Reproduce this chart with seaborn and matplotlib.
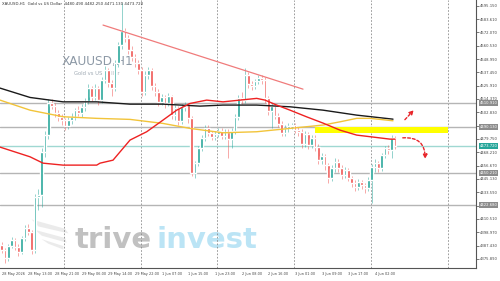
import numpy as np
import pandas as pd
import seaborn as sns
import matplotlib.pyplot as plt
from matplotlib.patches import Rectangle, FancyArrowPatch, Polygon
from matplotlib.transforms import blended_transform_factory

# XAUUSD H1 candles (open of each bar = close of the bar before)
first_open = 4388.0
closes = [4383.5, 4376.6, 4387.0, 4392.2, 4386.1, 4381.8, 4393.9, 4402.6, 4399.1, 4383.5,
          4429.4, 4431.1, 4468.4, 4483.1, 4510.8, 4508.2, 4502.1, 4498.7, 4496.1, 4490.9,
          4496.1, 4498.7, 4504.7, 4502.1, 4507.3, 4512.5, 4523.8, 4516.0, 4523.8, 4513.4,
          4530.7, 4539.4, 4528.1, 4523.8, 4545.4, 4561.0, 4573.2, 4567.1, 4556.7, 4550.6,
          4545.4, 4539.4, 4520.3, 4535.0, 4539.4, 4525.5, 4520.3, 4511.7, 4516.0, 4510.8,
          4516.9, 4500.4, 4506.5, 4495.2, 4507.3, 4509.1, 4497.8, 4450.2, 4458.8, 4471.8,
          4480.5, 4489.2, 4484.8, 4481.4, 4484.0, 4486.6, 4482.2, 4485.7, 4479.6, 4486.6,
          4498.7, 4515.1, 4513.4, 4535.0, 4527.3, 4525.5, 4529.9, 4532.5, 4530.7, 4515.1,
          4503.9, 4508.2, 4499.5, 4492.6, 4484.8, 4489.2, 4490.9, 4491.8, 4487.4, 4485.7,
          4475.3, 4484.0, 4474.4, 4480.5, 4472.7, 4461.4, 4464.9, 4457.1, 4445.9, 4454.5,
          4459.7, 4454.5, 4448.5, 4452.8, 4445.9, 4441.5, 4438.1, 4442.4, 4439.8, 4437.2,
          4444.1, 4455.4, 4458.8, 4454.5, 4465.8, 4471.8, 4470.1, 4480.49, 4473.72]
highs = [4390.5, 4385.0, 4389.0, 4395.0, 4394.0, 4388.5, 4396.0, 4405.5, 4406.0, 4401.0,
         4432.0, 4436.0, 4472.0, 4487.0, 4514.5, 4514.0, 4511.0, 4505.0, 4501.5, 4498.0,
         4499.0, 4502.0, 4507.0, 4508.0, 4510.0, 4515.0, 4527.0, 4526.0, 4527.5, 4525.5,
         4533.0, 4543.0, 4541.0, 4531.0, 4548.0, 4564.0, 4597.5, 4576.0, 4570.0, 4560.0,
         4553.0, 4548.0, 4542.0, 4538.5, 4542.5, 4541.0, 4528.0, 4523.0, 4519.0, 4518.0,
         4519.5, 4518.0, 4509.0, 4508.0, 4510.0, 4512.0, 4511.0, 4500.0, 4461.0, 4474.0,
         4483.0, 4492.0, 4491.5, 4487.0, 4486.5, 4489.0, 4489.0, 4488.0, 4488.0, 4489.0,
         4501.0, 4517.5, 4520.0, 4541.0, 4538.0, 4530.0, 4532.0, 4535.0, 4535.5, 4533.0,
         4517.0, 4511.0, 4510.0, 4502.0, 4495.0, 4491.5, 4493.5, 4494.0, 4494.0, 4490.0,
         4488.0, 4486.5, 4486.0, 4483.0, 4483.0, 4475.0, 4467.5, 4467.0, 4459.0, 4457.0,
         4463.0, 4462.0, 4457.0, 4455.5, 4455.0, 4448.0, 4444.0, 4445.0, 4444.5, 4442.0,
         4446.5, 4458.0, 4462.0, 4461.0, 4468.0, 4474.0, 4474.5, 4483.0, 4482.25]
lows = [4381.0, 4372.5, 4374.0, 4385.0, 4383.5, 4378.0, 4380.0, 4391.0, 4396.5, 4380.5,
        4381.0, 4418.0, 4421.0, 4464.0, 4480.0, 4505.5, 4499.0, 4495.0, 4492.0, 4487.5,
        4488.5, 4493.0, 4496.0, 4499.5, 4499.0, 4504.0, 4510.0, 4513.0, 4513.5, 4509.0,
        4511.0, 4528.0, 4525.0, 4517.0, 4521.0, 4542.0, 4558.0, 4564.0, 4553.0, 4547.0,
        4542.0, 4536.0, 4517.0, 4518.0, 4532.0, 4522.0, 4517.0, 4508.0, 4509.0, 4507.0,
        4508.0, 4497.0, 4496.0, 4492.0, 4493.0, 4504.0, 4494.0, 4447.5, 4446.0, 4456.0,
        4469.0, 4478.0, 4482.0, 4478.5, 4479.0, 4481.5, 4479.5, 4480.0, 4463.0, 4472.0,
        4484.0, 4496.0, 4510.0, 4511.0, 4524.0, 4522.5, 4523.0, 4527.0, 4527.5, 4511.0,
        4500.5, 4489.5, 4497.0, 4490.0, 4482.0, 4482.0, 4486.0, 4488.0, 4485.0, 4482.5,
        4472.0, 4473.0, 4471.0, 4472.0, 4469.0, 4458.0, 4458.5, 4453.0, 4442.0, 4443.5,
        4451.0, 4451.5, 4445.0, 4446.0, 4443.0, 4438.5, 4434.5, 4435.5, 4436.5, 4433.0,
        4434.5, 4424.0, 4451.0, 4451.5, 4452.0, 4463.0, 4467.0, 4463.0, 4471.13]

# moving averages read at a few bars
ma_red_bar = [-0.5, 8.5, 12.4, 18.4, 28.5, 29.5, 33.4, 38.5, 43.5, 48.4, 52.5, 56.5, 61.5,
              66.4, 71.5, 76.5, 79, 82.5, 86.5, 91.5, 96.4, 101.5, 106.5, 111.4, 116.5, 118]
ma_red = [4472.7, 4464.3, 4458.8, 4457.1, 4457.1, 4458.8, 4461.4, 4478.8, 4486.0, 4496.1,
          4504.7, 4510.5, 4513.4, 4511.9, 4513.4, 4514.9, 4513.4, 4509.1, 4504.7, 4498.9,
          4493.5, 4487.4, 4483.1, 4481.4, 4479.6, 4479.6]
ma_black_bar = [-0.5, 8.5, 18.4, 28.5, 38.5, 48.4, 59.5, 66.4, 76.5, 86.5, 96.4, 106.5, 117.4]
ma_black = [4523.8, 4515.7, 4511.9, 4511.9, 4509.9, 4509.9, 4508.2, 4509.1, 4509.1, 4507.6,
            4504.7, 4500.4, 4496.9]
ma_yellow_bar = [-0.5, 8.5, 18.4, 28.5, 38.5, 48.4, 56.5, 66.4, 76.5, 86.5, 96.4, 101.5,
                 106.5, 110.5, 117.4]
ma_yellow = [4513.4, 4504.7, 4499.0, 4497.6, 4496.7, 4493.2, 4488.9, 4485.1, 4486.0, 4488.9,
             4491.8, 4494.6, 4497.6, 4497.6, 4495.5]

levels = [4510.91, 4490.13, 4450.21, 4422.68]
current_price = 4473.72
zone = (4484.6, 4490.13)
zone_bars = (94, 133.8)
trend_bars = [30.4, 90.4]
trend_prices = [4578.4, 4522.9]
day_breaks = [18.8, 41.7, 64.7, 87.8, 110.8, 133.8]

y_ticks = [4595.15, 4583.61, 4572.07, 4560.53, 4548.99, 4537.45, 4525.91, 4514.37, 4502.83,
           4491.29, 4479.75, 4468.21, 4456.67, 4445.13, 4433.59, 4422.05, 4410.51, 4398.97,
           4387.43, 4375.89]
x_tick_bars = [0, 8, 16, 24, 32, 40, 48, 56, 64, 72, 80, 88, 96, 104, 112]
x_tick_labels = ["28 May 2026", "28 May 13:00", "28 May 21:00", "29 May 06:00", "29 May 14:00",
                 "29 May 22:00", "1 Jun 07:00", "1 Jun 15:00", "1 Jun 23:00", "2 Jun 08:00",
                 "2 Jun 16:00", "3 Jun 01:00", "3 Jun 09:00", "3 Jun 17:00", "4 Jun 02:00"]

TEAL = "#26a69a"
RED = "#ef5350"

sns.set_theme(style="white")
plt.rcParams['font.family'] = ['DejaVu Sans']

fig = plt.figure(figsize=(5, 2.81), dpi=100)
ax = fig.add_axes([0.0, 13 / 281, 476 / 500, 268 / 281])

opens = [first_open] + closes[:-1]
df = pd.DataFrame({"bar": np.arange(len(closes)), "open": opens, "close": closes,
                   "high": highs, "low": lows})
up = df["close"] >= df["open"]
colors = np.where(up, TEAL, RED)

# watermarks behind everything
ax.text(28.8, 4546.5, "XAUUSD,H1", fontsize=8.7, color="#8d99a6", ha="center", va="center", zorder=0)
ax.text(28.4, 4536.8, "Gold vs US Dollar", fontsize=3.8, color="#a0aab4", ha="center", va="center", zorder=0)
ax.text(22, 4385.5, "trive", fontsize=21, fontweight="bold", color="#8f8f8f", alpha=0.55,
        ha="left", va="baseline", zorder=0)
ax.text(46.5, 4385.5, "invest", fontsize=21, fontweight="bold", color="#8fd3ef", alpha=0.6,
        ha="left", va="baseline", zorder=0)
# wing logo
for pts in ([(9, 4410), (19, 4402), (20, 4398), (11, 4404)],
            [(10, 4401), (19, 4394), (19.5, 4390), (12, 4396)],
            [(12, 4393), (18.5, 4387), (18.5, 4384), (14, 4389)]):
    ax.add_patch(Polygon(pts, closed=True, fc="#dedede", ec="none", alpha=0.6, zorder=0))

for b in day_breaks:
    ax.axvline(b, color="#8a8a8a", lw=0.6, ls=(0, (2, 2)), zorder=1)

for lv in levels:
    ax.axhline(lv, color="#b5b5b5", lw=1.0, zorder=1)
ax.axhline(current_price, color="#9fd8d2", lw=1.0, zorder=1)

ax.add_patch(Rectangle((zone_bars[0], zone[0]), zone_bars[1] - zone_bars[0], zone[1] - zone[0],
                       facecolor="#ffff00", edgecolor="none", zorder=2))

ax.vlines(df["bar"], df["low"], df["high"], colors=colors, lw=0.7, alpha=0.5, zorder=3)
body_low = df[["open", "close"]].min(axis=1)
body_h = (df["close"] - df["open"]).abs().clip(lower=0.4)
ax.bar(df["bar"], body_h, bottom=body_low, width=0.72, color=colors, zorder=4)

sns.lineplot(x=ma_black_bar, y=ma_black, color="#1a1a1a", lw=1.0, ax=ax, zorder=5)
sns.lineplot(x=ma_yellow_bar, y=ma_yellow, color="#f2c43a", lw=1.0, ax=ax, zorder=5)
sns.lineplot(x=ma_red_bar, y=ma_red, color="#ee2222", lw=1.0, ax=ax, zorder=6)

ax.plot(trend_bars, trend_prices, color="#f07b7b", lw=0.9, zorder=6)

ax.add_patch(FancyArrowPatch((120.4, 4494.7), (124.2, 4506.5), arrowstyle="-|>", mutation_scale=6,
                             color="#e8262b", lw=1.0, ls=(0, (2, 1.5)), zorder=7))
ax.add_patch(FancyArrowPatch((119.5, 4480.5), (127.0, 4460.0), connectionstyle="arc3,rad=-0.6",
                             arrowstyle="-|>", mutation_scale=6, color="#e8262b", lw=1.0,
                             ls=(0, (2, 1.5)), zorder=7))

ax.set_xlim(-0.51, 142.3)
ax.set_ylim(4368.0, 4600.1)

ax.yaxis.tick_right()
ax.set_yticks(y_ticks)
ax.set_yticklabels([f"{v:.3f}" for v in y_ticks])
ax.set_xticks(x_tick_bars)
ax.set_xticklabels(x_tick_labels, ha="left")
ax.tick_params(axis="x", labelsize=2.5, colors="#444444", length=2, width=0.5, pad=1)
ax.tick_params(axis="y", labelsize=2.7, colors="#444444", length=2, width=0.5, pad=1)
for s in ["top", "left"]:
    ax.spines[s].set_visible(False)
for s in ["right", "bottom"]:
    ax.spines[s].set_color("#555555")
    ax.spines[s].set_linewidth(0.8)

tr = blended_transform_factory(ax.transAxes, ax.transData)
for lv in levels:
    ax.text(1.008, lv, f"{lv:.3f}", transform=tr, fontsize=2.7, color="white", va="center",
            ha="left", bbox=dict(boxstyle="square,pad=0.2", fc="#8c8c8c", ec="none"), zorder=10)
ax.text(1.008, current_price, f"{current_price:.3f}", transform=tr, fontsize=2.7, color="white",
        va="center", ha="left", bbox=dict(boxstyle="square,pad=0.2", fc="#26a69a", ec="none"), zorder=10)

ax.text(0.004, 0.992, "XAUUSD,H1  Gold vs US Dollar  4480.490 4482.250 4471.130 4473.720",
        transform=ax.transAxes, fontsize=2.8, color="#333333", ha="left", va="top")

fig.savefig("out.png", dpi=100)
